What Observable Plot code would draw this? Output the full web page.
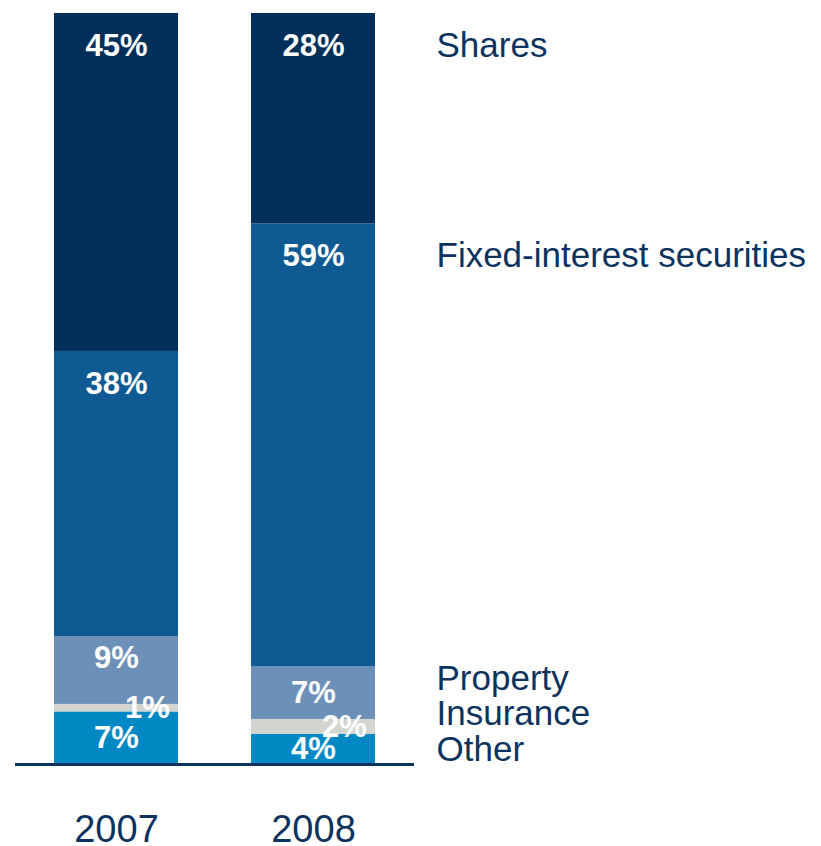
<!DOCTYPE html>
<html>
<head>
<meta charset="utf-8">
<script src="https://cdn.jsdelivr.net/npm/d3@7"></script>
<script src="https://cdn.jsdelivr.net/npm/@observablehq/plot@0.6"></script>
<style>
  html, body { margin: 0; padding: 0; background: #fff; }
</style>
</head>
<body>
<div id="chart"></div>
<script>
// ---- data ----
const years = ["2007", "2008"];
const categories = ["Other", "Insurance", "Property", "Fixed-interest securities", "Shares"]; // bottom to top
const values2007 = [7, 1, 9, 38, 45];
const values2008 = [4, 2, 7, 59, 28];
const colors = ["#0088c4", "#d3d6d0", "#6d90b8", "#0f5a92", "#00305a"];

const navy = "#0b335e";

// ---- build stacked table ----
const series = {"2007": values2007, "2008": values2008};
const rows = [];
for (const yr of years) {
  let acc = 0;
  series[yr].forEach((v, i) => {
    const y1 = acc, y2 = acc + v;
    acc = y2;
    const off = v >= 20 ? 4.3 : v >= 8 ? 2.8 : v / 2;
    rows.push({year: yr, category: categories[i], value: v, y1, y2, ly: y2 - off, small: v < 3});
  });
}

// right-hand labels: positions derived from the 2008 label positions, spread to avoid overlap
const last = rows.filter(d => d.year === years[years.length - 1]);
const legendRows = [];
let prev = -Infinity;
for (const d of last) {
  const y = Math.max(d.ly, prev + 4.7);
  legendRows.push({category: d.category, y});
  prev = y;
}

const chart = Plot.plot({
  width: 821,
  height: 846,
  marginTop: 13,
  marginBottom: 82,
  marginLeft: 15,
  marginRight: 407,
  style: {fontFamily: "'Liberation Sans', Arial, sans-serif", color: navy, background: "#fff"},
  x: {domain: years, paddingInner: 0.369, paddingOuter: 0.197, axis: null},
  y: {domain: [0, 100], axis: null},
  color: {domain: categories, range: colors},
  marks: [
    Plot.barY(rows, {x: "year", y1: "y1", y2: "y2", fill: "category"}),
    Plot.text(rows.filter(d => !d.small), {x: "year", y: "ly", text: d => d.value + "%", fill: "#fff", fontSize: 31, fontWeight: "bold"}),
    Plot.text(rows.filter(d => d.small), {x: "year", y: "ly", text: d => d.value + "%", fill: "#fff", fontSize: 31, fontWeight: "bold", dx: 31}),
    Plot.ruleY([0], {stroke: navy, strokeWidth: 3}),
    Plot.axisX({tickSize: 0, tickPadding: 51, fontSize: 38, fill: navy, label: null}),
    Plot.text(legendRows, {x: () => years[years.length - 1], y: "y", text: "category", textAnchor: "start", dx: 123, fontSize: 35, fill: navy})
  ]
});
document.getElementById("chart").appendChild(chart);
</script>
</body>
</html>
